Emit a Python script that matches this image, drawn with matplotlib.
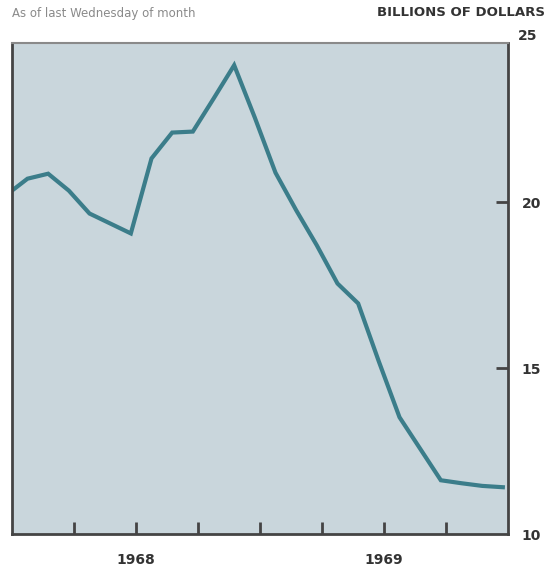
import matplotlib
matplotlib.use("Agg")
import matplotlib.pyplot as plt

# month index: 0 = Dec 1967 ... 24 = Dec 1969 (values as of last Wednesday)
months = list(range(25))
values = [20.23, 20.71, 20.86, 20.35, 19.66, 19.36, 19.06, 21.32, 22.10, 22.13,
          23.12, 24.13, 22.55, 20.89, 19.76, 18.70, 17.55, 16.95, 15.20, 13.52,
          12.57, 11.62, 11.53, 11.45, 11.41]
quarter_ticks = [3, 6, 9, 12, 15, 18, 21]
year_pos = [6, 18]
year_labels = ["1968", "1969"]
y_ticks = [10, 15, 20]

# last Wednesday falls about a week before month end
x = [m - 0.25 for m in months]

fig = plt.figure(figsize=(5.49, 5.69), dpi=100)
ax = fig.add_axes([12 / 549, 35 / 569, 496 / 549, 491 / 569])
ax.set_facecolor("#c9d6dc")

ax.plot(x, values, color="#3b7d8a", lw=3, solid_joinstyle="miter")

ax.set_xlim(0, 24)
ax.set_ylim(10, 24.8)

# spines
for side in ["left", "bottom", "right"]:
    ax.spines[side].set_color("#444444")
    ax.spines[side].set_linewidth(2)
ax.spines["top"].set_color("#8a8a8a")
ax.spines["top"].set_linewidth(1.5)

# x: quarter ticks inside, year labels underneath
ax.xaxis.remove_overlapping_locs = False
ax.set_xticks(quarter_ticks)
ax.set_xticklabels([])
ax.tick_params(axis="x", which="major", direction="in", length=9, width=2, color="#444444")
ax.set_xticks(year_pos, labels=year_labels, minor=True)
ax.tick_params(axis="x", which="minor", length=0, pad=14, labelsize=10, labelcolor="#333333")
for t in ax.get_xticklabels(minor=True):
    t.set_fontweight("bold")

# y: on the right
ax.yaxis.tick_right()
ax.set_yticks(y_ticks)
ax.tick_params(axis="y", direction="in", length=9, width=2, color="#444444",
               pad=10, labelsize=10, labelcolor="#333333")
for t in ax.get_yticklabels():
    t.set_fontweight("bold")
ax.yaxis.get_major_ticks()[0].tick2line.set_visible(False)
ax.text(1.0 + 10 / 496, 25, "25", transform=ax.get_yaxis_transform(), ha="left", va="center",
        fontsize=10, fontweight="bold", color="#333333", clip_on=False)

fig.text(12 / 549, 1 - 13 / 569, "As of last Wednesday of month", ha="left", va="center",
         fontsize=8.5, color="#8a8a8a")
fig.text(545 / 549, 1 - 13 / 569, "BILLIONS OF DOLLARS", ha="right", va="center",
         fontsize=9.5, fontweight="bold", color="#333333")

fig.savefig("out.png", dpi=100)
